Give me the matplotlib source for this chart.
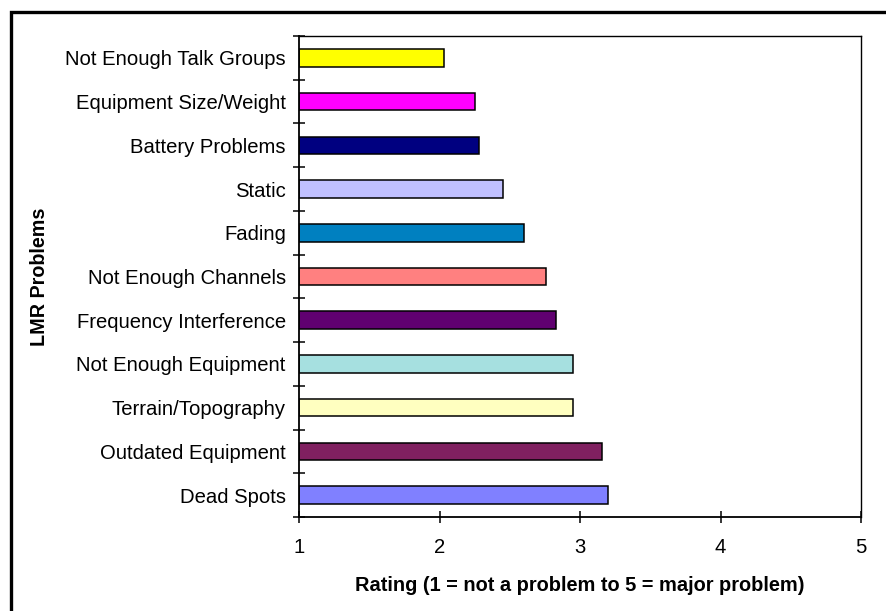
import numpy as np
import matplotlib.pyplot as plt
from matplotlib.patches import Rectangle

plt.rcParams['font.family'] = ['Liberation Sans', 'DejaVu Sans']

# bottom to top, as drawn
problems = ["Dead Spots", "Outdated Equipment", "Terrain/Topography",
            "Not Enough Equipment", "Frequency Interference", "Not Enough Channels",
            "Fading", "Static", "Battery Problems", "Equipment Size/Weight",
            "Not Enough Talk Groups"]
ratings = [3.20, 3.16, 2.95, 2.95, 2.83, 2.76, 2.60, 2.45, 2.28, 2.25, 2.03]
colors = ["#8080ff", "#802060", "#ffffc0", "#a6e0e0", "#600070", "#ff8080",
          "#0080c0", "#c0c0ff", "#000080", "#ff00ff", "#ffff00"]
xticks = [1, 2, 3, 4, 5]

W, H = 886, 611
fig = plt.figure(figsize=(W / 100, H / 100), dpi=100)
ax = fig.add_axes([299 / W, 1 - 517 / H, (861 - 299) / W, (517 - 36) / H])

y = np.arange(len(problems))
ax.barh(y, np.array(ratings) - 1, left=1, height=0.4, color=colors,
        edgecolor="black", linewidth=1.1)

ax.set_xlim(1, 5)
ax.set_ylim(-0.5, len(problems) - 0.5)
ax.set_xticks(xticks)
ax.set_xticklabels([str(t) for t in xticks])

# ticks at category boundaries, labels at centres
ax.set_yticks(np.arange(len(problems) + 1) - 0.5)
ax.set_yticklabels([])
ax.set_yticks(y, minor=True)
ax.set_yticklabels(problems, minor=True)
ax.tick_params(axis="y", which="major", direction="inout", length=9, width=1.1)
ax.tick_params(axis="y", which="minor", length=0, pad=9.5, labelsize=14.6)
ax.tick_params(axis="x", direction="inout", length=9, width=1.1, pad=10.5,
               labelsize=14.6)

for side in ["left", "bottom"]:
    ax.spines[side].set_linewidth(1.3)
for side in ["top", "right"]:
    ax.spines[side].set_linewidth(1.0)

ax.set_xlabel("Rating (1 = not a problem to 5 = major problem)",
              fontsize=14.4, fontweight="bold", labelpad=14)
ax.set_ylabel("LMR Problems", fontsize=14.2, fontweight="bold")
ax.yaxis.set_label_coords((49 - 299) / (861 - 299), 0.5)

# outer frame, cut off at right and bottom like the original
fig.patches.append(Rectangle((10.5 / W, -0.1), 1.2, 1.1 - 11.8 / H,
                             transform=fig.transFigure, fill=False,
                             edgecolor="black", linewidth=2.4))

fig.savefig("out.png", dpi=100)
